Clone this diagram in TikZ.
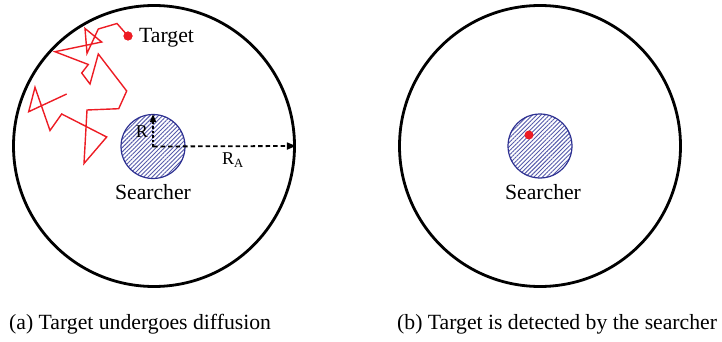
\documentclass[tikz,border=0pt]{standalone}
\usepackage{fontspec}
\setmainfont{Liberation Serif}
\usetikzlibrary{patterns.meta,arrows.meta}
\definecolor{navy}{RGB}{46,49,146}
\definecolor{hatch}{RGB}{85,90,170}
\definecolor{walk}{RGB}{237,28,36}
\tikzset{
  arena/.style={circle, draw=black, line width=2.8pt, minimum size=281pt, inner sep=0pt},
  searcher/.style={circle, draw=navy, line width=1.2pt, pattern={Lines[angle=45,distance=3pt,line width=0.9pt]}, pattern color=hatch, minimum size=64pt, inner sep=0pt},
  dot/.style={circle, fill=walk, inner sep=0pt, minimum size=9pt},
  lbl/.style={font=\fontsize{21.7pt}{24pt}\selectfont, inner sep=0pt},
  small/.style={font=\fontsize{18pt}{20pt}\selectfont, inner sep=0pt},
  dasharrow/.style={line width=1.8pt, dash pattern=on 4.5pt off 3pt, -{Triangle[length=9pt,width=7pt]}},
  walkline/.style={draw=walk, line width=1.4pt, line join=miter}
}
\begin{document}
\begin{tikzpicture}[x=1pt,y=-1pt]
\useasboundingbox (0,0) rectangle (722,342);
% panel (a)
\node[arena] (outerA) at (154,146) {};
\node[searcher] (searchA) at (153,146.5) {};
\coordinate (cA) at (153,146.5);
\draw[dasharrow] (cA) -- (outerA.east);
\draw[line width=1.6pt, dash pattern=on 2.5pt off 2pt, -{Triangle[length=8pt,width=6pt]}] (cA) -- (searchA.north);
\node[small] (Rlab) at (142,132) {R};
\node[small] (RAlab) at (233,160) {R\textsubscript{A}};
\node[lbl] (searchAlab) at (153,192) {Searcher};
\node[dot] (target) at (128,36) {};
\node[lbl, anchor=west] (targetlab) at (139,38) {Target};
\draw[walkline] (target.center) -- (117,23.5) -- (98.3,29) -- (87,53.3) -- (85,28.5) -- (101.7,42)
  -- (55,51.7) -- (88.3,64.5) -- (81.7,73) -- (90,84) -- (98.3,54) -- (126.7,91) -- (118.7,108.7)
  -- (87,110) -- (84,163.5) -- (106.7,137) -- (61.7,114) -- (50,130.5) -- (35,87.3) -- (28.7,111.7) -- (66.7,94);
\node[dot] at (target) {};
% panel (b)
\node[arena] (outerB) at (540,146) {};
\node[searcher] (searchB) at (540,146) {};
\node[dot] (targetB) at (529,135) {};
\node[lbl] (searchBlab) at (543,192) {Searcher};
% captions
\node[lbl, anchor=base west] (capA) at (9,329) {(a) Target undergoes diffusion};
\node[lbl, anchor=base west] (capB) at (397,329) {(b) Target is detected by the searcher};
\end{tikzpicture}
\end{document}
